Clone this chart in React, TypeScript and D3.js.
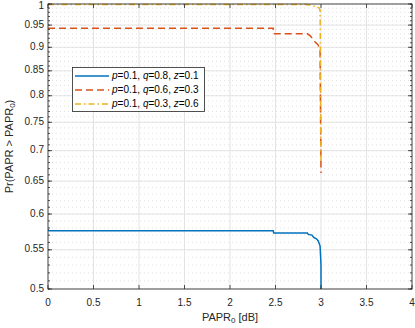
import React from "react";
import * as d3 from "d3";

const xTicks = [0, 0.5, 1, 1.5, 2, 2.5, 3, 3.5, 4];
const yTicks = [0.5, 0.55, 0.6, 0.65, 0.7, 0.75, 0.8, 0.85, 0.9, 0.95, 1];
const yMinor = d3.range(50, 101).map((v) => v / 100);

const blueX = [0, 0.01, 2.475, 2.48, 2.85, 2.86, 2.9, 2.92, 2.95, 2.97, 2.99, 3.0, 3.0];
const blueY = [0.578, 0.576, 0.576, 0.573, 0.573, 0.571, 0.57, 0.567, 0.565, 0.562, 0.555, 0.53, 0.5];
const redX = [0, 2.475, 2.48, 2.85, 2.88, 2.93, 2.97, 2.99, 3.0];
const redY = [0.943, 0.943, 0.93, 0.93, 0.926, 0.913, 0.905, 0.89, 0.663];
const yelX = [0, 2.84, 2.9, 2.95, 2.98, 2.99, 3.0];
const yelY = [0.999, 0.999, 0.996, 0.994, 0.99, 0.985, 0.68];

const series = [
  { xs: blueX, ys: blueY, color: "#0072BD", dash: "none", q: "0.8", z: "0.1" },
  { xs: redX, ys: redY, color: "#D95319", dash: "7,4", q: "0.6", z: "0.3" },
  { xs: yelX, ys: yelY, color: "#EDB120", dash: "6,3,1.5,3", q: "0.3", z: "0.6" },
];

export default function App() {
  const W = 415, H = 328;
  const L = 48, R = 412, T = 4, B = 289;
  const x = d3.scaleLinear().domain([0, 4]).range([L, R]);
  const y = d3.scaleLog().domain([0.5, 1]).range([B, T]);
  const axisC = "#262626";
  const font = "'Liberation Sans', Arial, Helvetica, sans-serif";
  const line = d3
    .line<[number, number]>()
    .x((d) => x(d[0]))
    .y((d) => y(d[1]));

  return (
    <svg width={W} height={H} style={{ position: "absolute", left: 0, top: 0, background: "#fff" }} fontFamily={font}>
      <rect x={L} y={T} width={R - L} height={B - T} fill="#fff" />
      {yMinor.map((v, i) => (
        <line key={"ym" + i} x1={L} x2={R} y1={y(v)} y2={y(v)} stroke="#cfcfcf" strokeWidth={0.6} strokeDasharray="1,3" />
      ))}
      {yTicks.map((v, i) => (
        <line key={"yg" + i} x1={L} x2={R} y1={y(v)} y2={y(v)} stroke="#e3e3e3" strokeWidth={1} />
      ))}
      {xTicks.map((v, i) => (
        <line key={"xg" + i} x1={x(v)} x2={x(v)} y1={T} y2={B} stroke="#e3e3e3" strokeWidth={1} />
      ))}
      <defs>
        <clipPath id="clip">
          <rect x={L} y={T - 1} width={R - L} height={B - T + 1} />
        </clipPath>
      </defs>
      <g clipPath="url(#clip)">
        {series.map((s, i) => (
          <path
            key={"s" + i}
            d={line(s.xs.map((xv, j) => [xv, s.ys[j]] as [number, number])) || ""}
            fill="none"
            stroke={s.color}
            strokeWidth={1.5}
            strokeDasharray={s.dash}
          />
        ))}
      </g>
      <rect x={L} y={T} width={R - L} height={B - T} fill="none" stroke={axisC} strokeWidth={0.8} />
      {xTicks.map((v, i) => (
        <g key={"xt" + i}>
          <line x1={x(v)} x2={x(v)} y1={B} y2={B - 4} stroke={axisC} strokeWidth={0.8} />
          <line x1={x(v)} x2={x(v)} y1={T} y2={T + 4} stroke={axisC} strokeWidth={0.8} />
          <text x={x(v)} y={303} fontSize={10} fill={axisC} textAnchor="middle" dominantBaseline="middle">
            {String(v)}
          </text>
        </g>
      ))}
      {yMinor.map((v, i) => (
        <g key={"ymt" + i}>
          <line x1={L} x2={L + 2} y1={y(v)} y2={y(v)} stroke={axisC} strokeWidth={0.8} />
          <line x1={R} x2={R - 2} y1={y(v)} y2={y(v)} stroke={axisC} strokeWidth={0.8} />
        </g>
      ))}
      {yTicks.map((v, i) => (
        <g key={"yt" + i}>
          <line x1={L} x2={L + 4} y1={y(v)} y2={y(v)} stroke={axisC} strokeWidth={0.8} />
          <line x1={R} x2={R - 4} y1={y(v)} y2={y(v)} stroke={axisC} strokeWidth={0.8} />
          <text x={44} y={Math.max(y(v), 6.5)} fontSize={10} fill={axisC} textAnchor="end" dominantBaseline="middle">
            {String(v)}
          </text>
        </g>
      ))}
      <text x={230} y={318} fontSize={11} fill={axisC} textAnchor="middle" dominantBaseline="middle">
        PAPR<tspan fontSize={8} dy={3}>0</tspan>
        <tspan dy={-3}> [dB]</tspan>
      </text>
      <text
        transform={`translate(10,${(T + B) / 2}) rotate(-90)`}
        fontSize={11}
        fill={axisC}
        textAnchor="middle"
        dominantBaseline="middle"
      >
        Pr(PAPR &gt; PAPR<tspan fontSize={8} dy={3}>0</tspan>
        <tspan dy={-3}>)</tspan>
      </text>
      <rect x={72.5} y={67.5} width={132} height={44} fill="#fff" stroke={axisC} strokeWidth={0.8} />
      {series.map((s, i) => {
        const ly = 76 + i * 14;
        return (
          <g key={"lg" + i}>
            <line x1={75} x2={109} y1={ly} y2={ly} stroke={s.color} strokeWidth={1.5} strokeDasharray={s.dash} />
            <text x={112} y={ly} fontSize={10} fill="#000" dominantBaseline="middle">
              <tspan fontStyle="italic">p</tspan>=0.1, <tspan fontStyle="italic">q</tspan>={s.q}, <tspan fontStyle="italic">z</tspan>={s.z}
            </text>
          </g>
        );
      })}
    </svg>
  );
}
